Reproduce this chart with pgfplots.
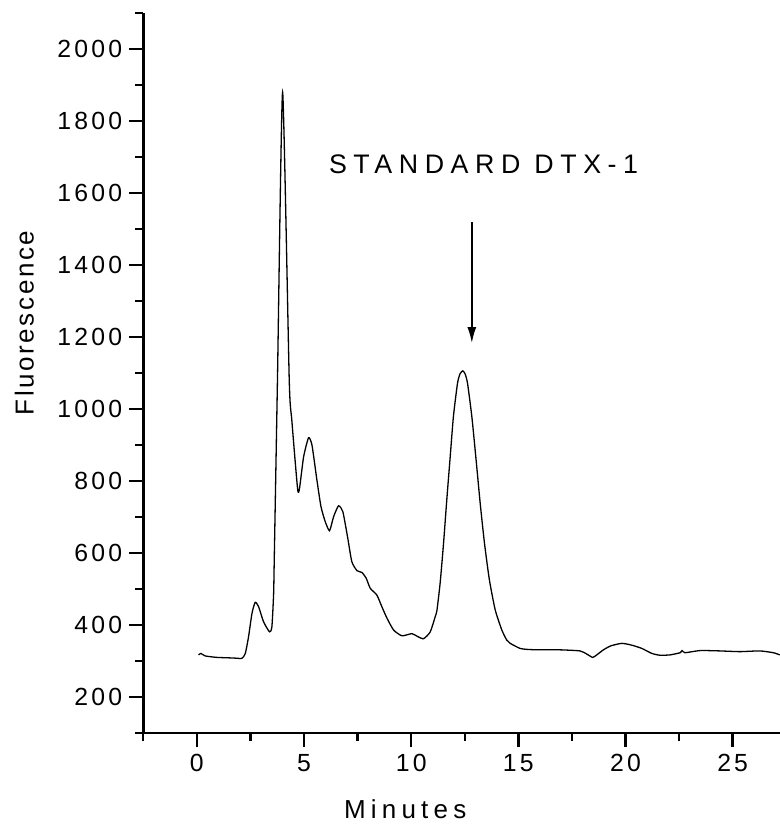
\documentclass[border=0pt]{standalone}
\usepackage{fontspec}
\setmainfont{Liberation Sans}
\newfontfamily\tickfont[LetterSpace=13]{Liberation Sans}
\newfontfamily\flfont[LetterSpace=10]{Liberation Sans}
\newfontfamily\minfont[LetterSpace=20]{Liberation Sans}
\newfontfamily\titfont[LetterSpace=24.5]{Liberation Sans}
\usepackage{pgfplots}
\pgfplotsset{compat=1.18}
\usetikzlibrary{arrows.meta}
\pgfplotstableread{
x y
0.08 317
0.19 321
0.39 314
0.94 310
1.40 309
1.79 308
2.10 307.5
2.26 321
2.41 367
2.57 432
2.72 463
2.88 451
3.11 409
3.39 381
3.50 395
3.58 485
3.61 580
3.76 1080
4.00 1880
4.31 1080
4.43 969
4.70 778
4.79 780
4.98 867
5.21 920
5.37 900
5.60 803
5.79 729
5.99 687
6.19 662
6.38 701
6.61 731
6.81 715
7.03 645
7.23 576
7.47 551
7.70 546
7.90 530
8.09 502
8.40 483
8.63 451
8.87 419
9.18 386
9.57 370
10.03 376
10.30 368
10.58 362
10.89 381
11.12 423
11.20 440
11.35 516
11.51 627
11.66 747
11.82 867
11.97 979
12.16 1071
12.28 1098
12.41 1106
12.52 1097
12.63 1071
12.83 979
13.03 858
13.22 738
13.42 627
13.65 525
13.92 442
14.23 386
14.46 358
14.62 349
15.08 335
15.47 332
16.02 331
16.95 331
17.88 328
18.20 319
18.47 310
18.66 317
18.97 331
19.31 342
19.83 349
20.29 344
20.76 335
21.23 321
21.61 316
22.08 317
22.55 323
22.64 329
22.78 323
23.48 329
24.41 328
25.34 326
26.27 328
26.90 323
27.20 317
}\chrom
\begin{document}
\begin{tikzpicture}
\begin{axis}[
  scale only axis, width=318.25pt, height=360pt,
  xmin=-2.5, xmax=27.2, ymin=100, ymax=2100,
  axis lines=left, axis line style={line width=1.4pt, -},
  xtick={0,5,...,25}, minor xtick={-2.5,2.5,...,27.5},
  ytick={200,400,...,2000}, minor ytick={100,300,...,2100},
  tick align=outside, major tick length=7pt, minor tick length=4pt,
  every tick/.style={line width=1.2pt, black},
  tick label style={font=\tickfont\fontsize{12.4}{14}\selectfont},
  /pgf/number format/assume math mode=true,
  /pgf/number format/1000 sep={},
  clip=false,
]
\addplot[black, line width=0.65pt, smooth, tension=0.35] table[x=x, y=y] {\chrom};
\node[font=\titfont\fontsize{13.4}{15}\selectfont, inner sep=0pt] at (axis cs:13.38,1679) {STANDARD DTX-1};
\draw[line width=0.9pt, -{Latex[length=8pt,width=4.5pt]}] (axis cs:12.83,1520) -- (axis cs:12.83,1183);
\node[font=\flfont\fontsize{13}{15}\selectfont, rotate=90, inner sep=0pt] at (axis cs:-8.05,1239) {Fluorescence};
\node[font=\minfont\fontsize{13}{15}\selectfont, inner sep=0pt] at (axis cs:9.72,-111) {Minutes};
\end{axis}
\pgfresetboundingbox
\path[use as bounding box] (-71.65pt,-46pt) rectangle (317.9pt,366.5pt);
\end{tikzpicture}
\end{document}
